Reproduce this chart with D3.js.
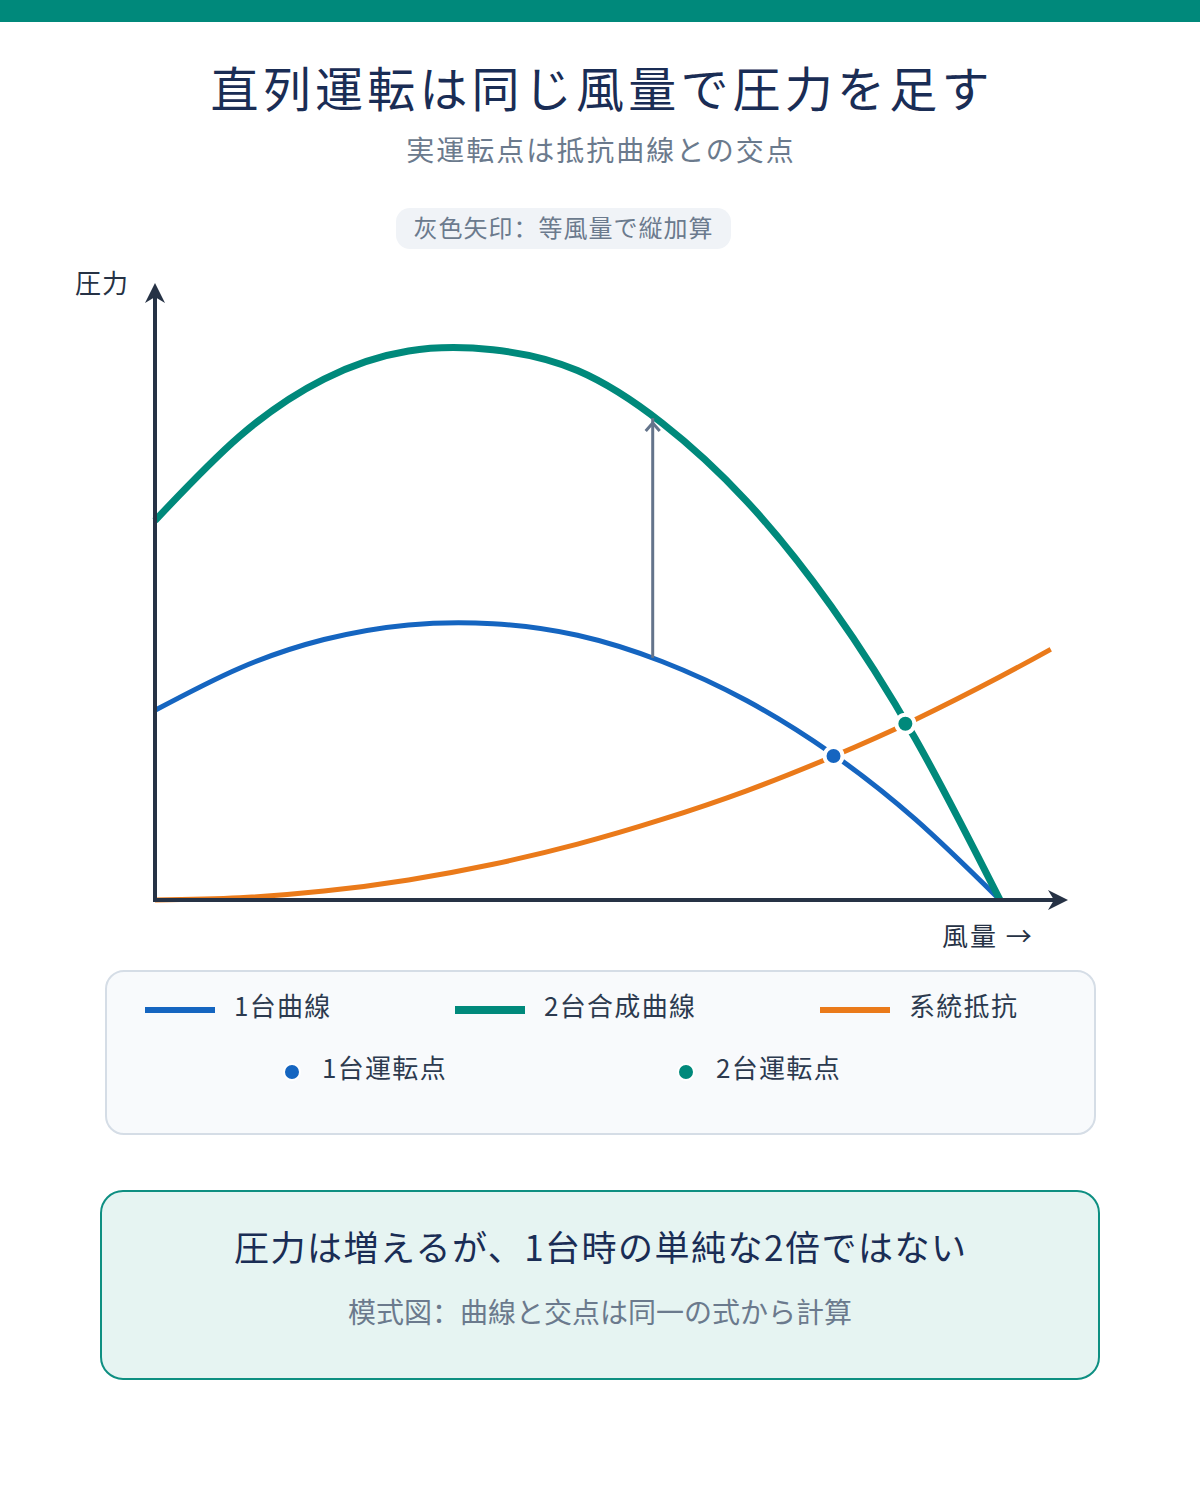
<!DOCTYPE html>
<html><head><meta charset="utf-8">
<script src="https://cdn.jsdelivr.net/npm/d3@7"></script>
<style>
html,body{margin:0;padding:0;background:#fff;}
svg{display:block;font-family:"Noto Sans CJK SC","Noto Sans",sans-serif;}
</style></head>
<body>
<script>
// ---- data (flow vs pressure, schematic units) ----
const flows = [0,10,20,30,40,50,60,70,80,90,100];
const singlePressure = [31.1,38.0,42.7,45.1,45.3,43.4,39.1,32.7,24.1,13.2,0];
const seriesPressure = [62.2,76.0,85.4,90.0,90.2,86.8,78.2,65.4,48.2,26.4,0];
const resistFlows = [0,10,20,30,40,50,60,70,80,90,100,106];
const resistPressure = [0,0.37,1.46,3.29,5.86,9.15,13.2,17.9,23.4,29.6,36.6,41.1];
const opSingle = {q:80.3, p:23.6};
const opSeries = {q:88.8, p:28.9};
const arrowFlow = 58.9;
const arrowFrom = 39.7, arrowTo = 79.0;
const legendLines = [{label:"1台曲線",color:"#1565c0"},{label:"2台合成曲線",color:"#00897b"},{label:"系統抵抗",color:"#ea7a1a"}];
const legendDots = [{label:"1台運転点",color:"#1565c0"},{label:"2台運転点",color:"#00897b"}];

const W=1200,H=1490;
const svg=d3.select("body").append("svg").attr("width",W).attr("height",H);
svg.append("rect").attr("width",W).attr("height",22).attr("fill","#00897b");

const navy="#1a2d55", gray="#6b7a8d", axisC="#263245";
function ctext(cx,cy,size,fill,ls,str){
 return svg.append("text").attr("x",cx+ls/2).attr("y",cy).attr("text-anchor","middle").attr("font-size",size)
  .attr("letter-spacing",ls).attr("fill",fill).text(str);
}
ctext(600,107,48,navy,4.2,"直列運転は同じ風量で圧力を足す");
ctext(600,161,28,gray,2,"実運転点は抵抗曲線との交点");

svg.append("rect").attr("x",396).attr("y",208).attr("width",335).attr("height",41).attr("rx",14).attr("fill","#f0f3f7");
ctext(563,237,24,gray,1,"灰色矢印：等風量で縦加算");

// scales
const x=d3.scaleLinear().domain([0,100]).range([155,1000]);
const y=d3.scaleLinear().domain([0,100]).range([900,290]);

const defs=svg.append("defs");
defs.append("marker").attr("id","axArrow").attr("viewBox","0 0 10 10").attr("refX",5).attr("refY",5)
 .attr("markerWidth",5).attr("markerHeight",5).attr("orient","auto")
 .append("path").attr("d","M0,0 L10,5 L0,10 L3,5 Z").attr("fill",axisC);

const line=d3.line().x(d=>x(d[0])).y(d=>y(d[1])).curve(d3.curveNatural);

// curves
svg.append("path").attr("d",line(resistFlows.map((q,i)=>[q,resistPressure[i]]))).attr("fill","none").attr("stroke","#ea7a1a").attr("stroke-width",5);
svg.append("path").attr("d",line(flows.map((q,i)=>[q,singlePressure[i]]))).attr("fill","none").attr("stroke","#1565c0").attr("stroke-width",5);
svg.append("path").attr("d",line(flows.map((q,i)=>[q,seriesPressure[i]]))).attr("fill","none").attr("stroke","#00897b").attr("stroke-width",7);

// axes
svg.append("line").attr("x1",155).attr("y1",900).attr("x2",155).attr("y2",293).attr("stroke",axisC).attr("stroke-width",4).attr("marker-end","url(#axArrow)");
svg.append("line").attr("x1",153).attr("y1",900).attr("x2",1058).attr("y2",900).attr("stroke",axisC).attr("stroke-width",4).attr("marker-end","url(#axArrow)");
svg.append("text").attr("x",75).attr("y",293).attr("font-size",26).attr("letter-spacing",1).attr("fill",axisC).text("圧力");
svg.append("text").attr("x",942).attr("y",946).attr("font-size",26).attr("letter-spacing",2).attr("fill",axisC).text("風量 →");

// gray addition arrow
const ax=x(arrowFlow);
svg.append("line").attr("x1",ax).attr("y1",y(arrowFrom)).attr("x2",ax).attr("y2",y(arrowTo)).attr("stroke","#64748b").attr("stroke-width",3);
svg.append("path").attr("d",`M${ax-7},${y(arrowTo)+13} L${ax},${y(arrowTo)+5} L${ax+7},${y(arrowTo)+13}`).attr("fill","none").attr("stroke","#64748b").attr("stroke-width",3);

// operating points
[[opSingle,"#1565c0"],[opSeries,"#00897b"]].forEach(([o,c])=>{
 svg.append("circle").attr("cx",x(o.q)).attr("cy",y(o.p)).attr("r",9).attr("fill",c).attr("stroke","#fff").attr("stroke-width",4);
});

// legend
svg.append("rect").attr("x",106).attr("y",971).attr("width",989).attr("height",163).attr("rx",18).attr("fill","#f8fafc").attr("stroke","#d5dde6").attr("stroke-width",2);
const lx=[145,455,820];
legendLines.forEach((d,i)=>{
 svg.append("line").attr("x1",lx[i]).attr("x2",lx[i]+70).attr("y1",1010).attr("y2",1010).attr("stroke",d.color).attr("stroke-width",i==1?8:6);
 svg.append("text").attr("x",lx[i]+89).attr("y",1016).attr("font-size",26).attr("letter-spacing",1.3).attr("fill","#2c3a4f").text(d.label);
});
const dx=[292,686];
legendDots.forEach((d,i)=>{
 svg.append("circle").attr("cx",dx[i]).attr("cy",1072).attr("r",8).attr("fill",d.color).attr("stroke","#fff").attr("stroke-width",2);
 svg.append("text").attr("x",dx[i]+30).attr("y",1078).attr("font-size",26).attr("letter-spacing",1.3).attr("fill","#2c3a4f").text(d.label);
});

// note box
svg.append("rect").attr("x",101).attr("y",1191).attr("width",998).attr("height",188).attr("rx",22).attr("fill","#e6f4f2").attr("stroke","#0e8f82").attr("stroke-width",2);
ctext(600,1261,35,navy,1.5,"圧力は増えるが、1台時の単純な2倍ではない");
ctext(600,1323,28,gray,0,"模式図：曲線と交点は同一の式から計算");
</script>
</body></html>
